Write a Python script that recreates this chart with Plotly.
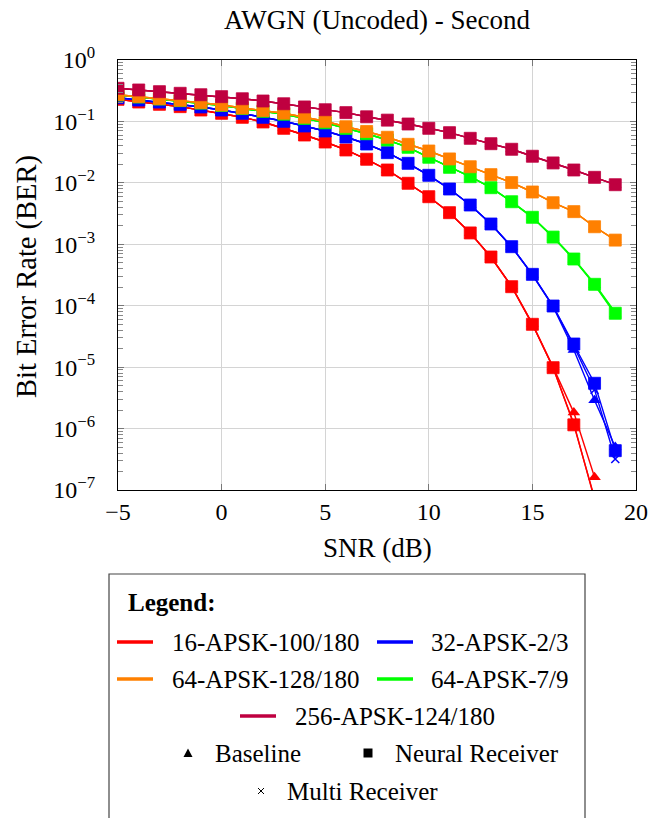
import plotly.graph_objects as go

# ---------------- data ----------------
snr = list(range(-5, 20))

mods = ["16-APSK-100/180", "32-APSK-2/3", "64-APSK-128/180", "64-APSK-7/9", "256-APSK-124/180"]
colors = ["#FF0000", "#0000FF", "#FF8000", "#00FF00", "#BF0040"]

red_neural = [0.229, 0.207, 0.190, 0.174, 0.1535, 0.1356, 0.1167, 0.098, 0.0773, 0.0601, 0.0462, 0.0343,
              0.0242, 0.0162, 0.00984, 0.00595, 0.00327, 0.00153, 0.000621, 0.000204, 4.98e-5, 9.8e-6,
              1.15e-6, 7.4e-8, None]
red_baseline = [0.229, 0.207, 0.190, 0.174, 0.1535, 0.1356, 0.1167, 0.098, 0.0773, 0.0601, 0.0462, 0.0343,
                0.0242, 0.0162, 0.00984, 0.00595, 0.00327, 0.00153, 0.000621, 0.000206, 5.1e-5, 1.0e-5,
                1.82e-6, 1.61e-7, None]
red_multi = [0.229, 0.207, 0.190, 0.174, 0.1535, 0.1356, 0.1167, 0.098, 0.0773, 0.0601, 0.0462, 0.0343,
             0.0242, 0.0162, 0.00984, 0.00595, 0.00327, 0.00153, 0.000621, 0.000204, 4.98e-5, 9.8e-6,
             1.2e-6, 7.0e-8, None]

blue_neural = [0.243, 0.223, 0.207, 0.190, 0.172, 0.1535, 0.1356, 0.1167, 0.1005, 0.0843, 0.0699, 0.0558,
               0.0429, 0.031, 0.0208, 0.01327, 0.00794, 0.00436, 0.00214, 0.000914, 0.000324, 9.89e-5,
               2.38e-5, 5.46e-6, 4.37e-7]
blue_baseline = [0.243, 0.223, 0.207, 0.190, 0.172, 0.1535, 0.1356, 0.1167, 0.1005, 0.0843, 0.0699, 0.0558,
                 0.0429, 0.031, 0.0208, 0.01327, 0.00794, 0.00436, 0.00214, 0.000905, 0.000318, 9.6e-5,
                 1.9e-5, 2.9e-6, 5.0e-7]
blue_multi = [0.243, 0.223, 0.207, 0.190, 0.172, 0.1535, 0.1356, 0.1167, 0.1005, 0.0843, 0.0699, 0.0558,
              0.0429, 0.031, 0.0208, 0.01327, 0.00794, 0.00436, 0.00214, 0.000910, 0.000321, 9.75e-5,
              2.2e-5, 4.3e-6, 3.2e-7]

orange_neural = [0.272, 0.253, 0.234, 0.221, 0.202, 0.185, 0.165, 0.150, 0.136, 0.117, 0.1005, 0.082,
                 0.0686, 0.0552, 0.0424, 0.033, 0.0245, 0.0183, 0.0136, 0.0101, 0.0071, 0.00475,
                 0.0034, 0.00193, 0.00117]
orange_baseline = [0.272, 0.253, 0.234, 0.221, 0.202, 0.185, 0.165, 0.150, 0.136, 0.117, 0.1005, 0.082,
                   0.0686, 0.0552, 0.0424, 0.033, 0.0245, 0.0183, 0.0136, 0.0101, 0.0071, 0.00475,
                   0.0034, 0.00193, 0.00117]
orange_multi = [0.272, 0.253, 0.234, 0.221, 0.202, 0.185, 0.165, 0.150, 0.136, 0.117, 0.1005, 0.082,
                0.0686, 0.0552, 0.0424, 0.033, 0.0245, 0.0183, 0.0136, 0.0101, 0.0071, 0.00475,
                0.0034, 0.00193, 0.00117]

green_neural = [0.27, 0.25, 0.232, 0.218, 0.199, 0.182, 0.162, 0.146, 0.131, 0.112, 0.095, 0.077,
                0.063, 0.0499, 0.0379, 0.0261, 0.0179, 0.0126, 0.00834, 0.00493, 0.00275, 0.00131,
                0.000576, 0.000223, 7.53e-5]
green_baseline = [0.27, 0.25, 0.232, 0.218, 0.199, 0.182, 0.162, 0.146, 0.131, 0.112, 0.095, 0.077,
                  0.063, 0.0499, 0.0379, 0.0261, 0.0179, 0.0126, 0.00834, 0.00490, 0.00272, 0.00129,
                  0.000568, 0.000218, 7.2e-5]
green_multi = [0.27, 0.25, 0.232, 0.218, 0.199, 0.182, 0.162, 0.146, 0.131, 0.112, 0.095, 0.077,
               0.063, 0.0499, 0.0379, 0.0261, 0.0179, 0.0126, 0.00834, 0.00496, 0.00278, 0.00133,
               0.000584, 0.000228, 7.8e-5]

crimson_neural = [0.346, 0.325, 0.305, 0.287, 0.272, 0.253, 0.234, 0.215, 0.194, 0.172, 0.155, 0.139,
                  0.119, 0.105, 0.0908, 0.0773, 0.0656, 0.0531, 0.0434, 0.0352, 0.0271, 0.0211,
                  0.0162, 0.0123, 0.00933]
crimson_baseline = list(crimson_neural)
crimson_multi = list(crimson_neural)

y_tickvals = [1, 1e-1, 1e-2, 1e-3, 1e-4, 1e-5, 1e-6, 1e-7]
y_ticktext = ["10<sup>0</sup>", "10<sup>\u22121</sup>", "10<sup>\u22122</sup>", "10<sup>\u22123</sup>",
              "10<sup>\u22124</sup>", "10<sup>\u22125</sup>", "10<sup>\u22126</sup>", "10<sup>\u22127</sup>"]
x_tickvals = [-5, 0, 5, 10, 15, 20]
x_ticktext = ["\u22125", "0", "5", "10", "15", "20"]

receivers = ["Baseline", "Neural Receiver", "Multi Receiver"]
series = {
    mods[0]: [red_baseline, red_neural, red_multi],
    mods[1]: [blue_baseline, blue_neural, blue_multi],
    mods[2]: [orange_baseline, orange_neural, orange_multi],
    mods[3]: [green_baseline, green_neural, green_multi],
    mods[4]: [crimson_baseline, crimson_neural, crimson_multi],
}
draw_order = [0, 1, 3, 2, 4]

FONT = "Liberation Serif"

# ---------------- figure ----------------
W, H = 649, 818
L, R, T, B = 118, 636, 60, 490

fig = go.Figure()
for mi in draw_order:
    name = mods[mi]
    col = colors[mi]
    b, n, m = series[name]
    fig.add_trace(go.Scatter(x=snr, y=b, mode="lines+markers", showlegend=False,
                             line=dict(color=col, width=1.4),
                             marker=dict(symbol="triangle-up", size=11, color=col)))
    fig.add_trace(go.Scatter(x=snr, y=n, mode="lines+markers", showlegend=False,
                             line=dict(color=col, width=1.4),
                             marker=dict(symbol="square", size=12, color=col,
                                         line=dict(color=col, width=0.8))))
    fig.add_trace(go.Scatter(x=snr, y=m, mode="lines+markers", showlegend=False,
                             line=dict(color=col, width=1.4),
                             marker=dict(symbol="x-thin", size=8, line=dict(color=col, width=1.5))))

minor_vals = [k * 10 ** e for e in range(-7, 0) for k in range(2, 10)]

fig.update_xaxes(range=[-5, 20], tickvals=x_tickvals, ticktext=x_ticktext, automargin=False,
                 showline=True, linecolor="black", linewidth=1.3, mirror="allticks",
                 ticks="inside", ticklen=6, tickcolor="#777", tickwidth=1,
                 showgrid=True, gridcolor="#d4d4d4", gridwidth=1.2, zeroline=False,
                 tickfont=dict(family=FONT, size=24, color="black"))
fig.update_yaxes(type="log", range=[-7, 0], tickvals=y_tickvals, ticktext=y_ticktext, automargin=False,
                 showline=True, linecolor="black", linewidth=1.3, mirror="allticks",
                 ticks="inside", ticklen=6, tickcolor="#777", tickwidth=1,
                 showgrid=True, gridcolor="#d4d4d4", gridwidth=1.2, zeroline=False,
                 ticklabelstandoff=17,
                 minor=dict(tickvals=minor_vals, ticks="inside", ticklen=5, tickcolor="#888",
                            tickwidth=1, showgrid=False),
                 tickfont=dict(family=FONT, size=24, color="black"))


def px(x):
    return (x - L) / (R - L)


def py(y):
    return (B - y) / (B - T)


annotations = [
    dict(text="AWGN (Uncoded) - Second", x=px(377), y=py(20), xref="paper", yref="paper",
         showarrow=False, xanchor="center", yanchor="middle",
         font=dict(family=FONT, size=27, color="black")),
    dict(text="SNR (dB)", x=px(377), y=py(548), xref="paper", yref="paper",
         showarrow=False, xanchor="center", yanchor="middle",
         font=dict(family=FONT, size=27, color="black")),
    dict(text="Bit Error Rate (BER)", x=px(27), y=py(277), xref="paper", yref="paper",
         showarrow=False, xanchor="center", yanchor="middle", textangle=-90,
         font=dict(family=FONT, size=28.5, color="black")),
]

shapes = []
# legend box
shapes.append(dict(type="rect", xref="paper", yref="paper", x0=px(109), x1=px(585), y0=py(574), y1=py(840),
                   line=dict(color="#444", width=1.2), fillcolor="white", layer="above"))

annotations.append(dict(text="<b>Legend:</b>", x=px(126), y=py(602), xref="paper", yref="paper",
                        showarrow=False, xanchor="left", yanchor="middle",
                        font=dict(family=FONT, size=25, color="black")))

leg_entries = [
    (0, 117, 170, 642), (1, 377, 429, 642),
    (2, 117, 170, 679), (3, 377, 429, 679),
    (4, 240, 293, 716),
]
for mi, lx, tx, ly in leg_entries:
    shapes.append(dict(type="line", xref="paper", yref="paper", x0=px(lx), x1=px(lx + 36),
                       y0=py(ly), y1=py(ly), line=dict(color=colors[mi], width=3.5), layer="above"))
    annotations.append(dict(text=mods[mi], x=px(tx), y=py(ly), xref="paper", yref="paper",
                            showarrow=False, xanchor="left", yanchor="middle",
                            font=dict(family=FONT, size=25, color="black")))

# marker legend
tri_x, tri_y = 188, 753
shapes.append(dict(type="path", xref="paper", yref="paper",
                   path=f"M {px(tri_x-4.5)} {py(tri_y+4)} L {px(tri_x+4.5)} {py(tri_y+4)} L {px(tri_x)} {py(tri_y-4.5)} Z",
                   fillcolor="black", line=dict(width=0), layer="above"))
sq_x, sq_y = 368, 753
shapes.append(dict(type="rect", xref="paper", yref="paper",
                   x0=px(sq_x-4.5), x1=px(sq_x+4.5), y0=py(sq_y+4.5), y1=py(sq_y-4.5),
                   fillcolor="black", line=dict(width=0), layer="above"))
xm_x, xm_y = 261, 791
shapes.append(dict(type="line", xref="paper", yref="paper", x0=px(xm_x-3), x1=px(xm_x+3),
                   y0=py(xm_y-3), y1=py(xm_y+3), line=dict(color="black", width=1), layer="above"))
shapes.append(dict(type="line", xref="paper", yref="paper", x0=px(xm_x-3), x1=px(xm_x+3),
                   y0=py(xm_y+3), y1=py(xm_y-3), line=dict(color="black", width=1), layer="above"))

for txt, tx, ty in [(receivers[0], 213, 753), (receivers[1], 393, 753), (receivers[2], 285, 791)]:
    annotations.append(dict(text=txt, x=px(tx), y=py(ty), xref="paper", yref="paper",
                            showarrow=False, xanchor="left", yanchor="middle",
                            font=dict(family=FONT, size=25, color="black")))

fig.update_layout(width=W, height=H, margin=dict(l=L, r=W - R, t=T, b=H - B, pad=0, autoexpand=False),
                  paper_bgcolor="white", plot_bgcolor="white",
                  showlegend=False, annotations=annotations, shapes=shapes)

fig.write_html("out.html")
